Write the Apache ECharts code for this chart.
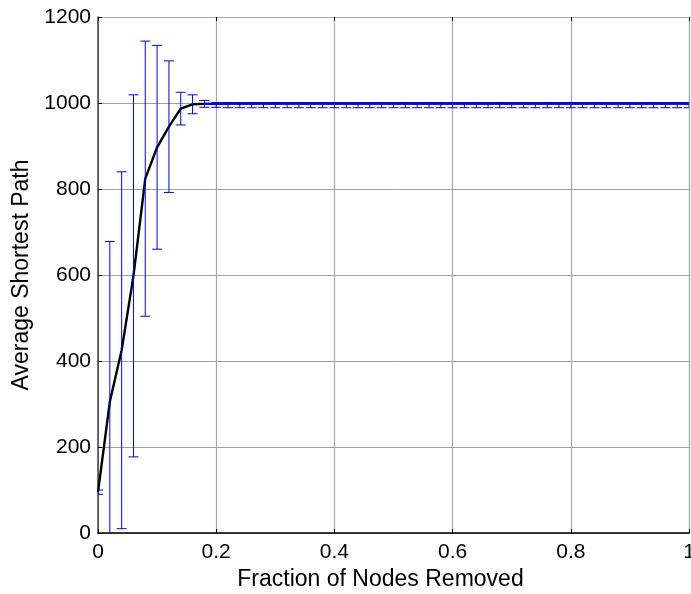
<!DOCTYPE html>
<html>
<head>
<meta charset="utf-8">
<script src="https://cdn.jsdelivr.net/npm/echarts@6/dist/echarts.min.js"></script>
<style>
html,body{margin:0;padding:0;background:#fff;}
#chart{width:691px;height:594px;}
</style>
</head>
<body>
<div id="chart"></div>
<script>
// Fraction of nodes removed (x positions)
const fractions = [0,0.02,0.04,0.06,0.08,0.10,0.12,0.14,0.16,0.18,0.20,
  0.22,0.24,0.26,0.28,0.30,0.32,0.34,0.36,0.38,0.40,
  0.42,0.44,0.46,0.48,0.50,0.52,0.54,0.56,0.58,0.60,
  0.62,0.64,0.66,0.68,0.70,0.72,0.74,0.76,0.78,0.80,
  0.82,0.84,0.86,0.88,0.90,0.92,0.94,0.96,0.98,1.00];
// Mean average shortest path
const meanPath = [95,305,425,598,824,897,945,987,997,998,998,
  999,999,999,999,999,999,999,999,999,999,
  999,999,999,999,999,999,999,999,999,999,
  999,999,999,999,999,999,999,999,999,999,
  999,999,999,999,999,999,999,999,999,999];
// Error below the mean
const errLow = [5,373,415,421,320,237,153,38,22,8,8,
  10,10,10,10,10,10,10,10,10,10,
  10,10,10,10,10,10,10,10,10,10,
  10,10,10,10,10,10,10,10,10,10,
  10,10,10,10,10,10,10,10,10,10];
// Error above the mean
const errHigh = [5,373,415,421,320,237,153,38,22,8,3,
  2,2,2,2,2,2,2,2,2,2,
  2,2,2,2,2,2,2,2,2,2,
  2,2,2,2,2,2,2,2,2,2,
  2,2,2,2,2,2,2,2,2,2];
const plateauStart = 9; // index where the blue error-bar line becomes visible
const xTicks = [0,0.2,0.4,0.6,0.8,1];
const yTicks = [0,200,400,600,800,1000,1200];

const lineData = fractions.map((x,i)=>[x, meanPath[i]]);
const blueLineData = lineData.filter((d,i)=>i>=plateauStart);
const errData = fractions.map((x,i)=>[x, meanPath[i]-errLow[i], meanPath[i]+errHigh[i]]);

const font = 'Liberation Sans, Arial, sans-serif';
const chart = echarts.init(document.getElementById('chart'), null, {renderer:'canvas'});

const capW = 5;
chart.setOption({
  animation:false,
  backgroundColor:'#fff',
  grid:{left:98,right:2,top:17,bottom:61,containLabel:false,outerBoundsMode:'none'},
  xAxis:[{
    type:'value',min:0,max:1,interval:0.2,position:'bottom',
    name:'Fraction of Nodes Removed',nameLocation:'middle',nameGap:33,
    nameTextStyle:{fontFamily:font,fontSize:23,color:'#000',padding:[0,26,0,0]},
    axisLine:{show:true,onZero:false,lineStyle:{color:'#000',width:1.5}},
    axisTick:{show:true,inside:true,length:4,lineStyle:{color:'#000'}},
    axisLabel:{fontFamily:font,fontSize:21,color:'#000',margin:9,
      formatter:v=>xTicks.includes(+v.toFixed(2))?String(+v.toFixed(2)):''},
    splitLine:{show:true,lineStyle:{color:'#a8a8a8',width:1.2}}
  },{
    type:'value',min:0,max:1,interval:0.2,position:'top',
    axisLine:{show:true,onZero:false,lineStyle:{color:'#a8a8a8',width:1.2}},
    axisTick:{show:true,inside:true,length:4,lineStyle:{color:'#000'}},
    axisLabel:{show:false},splitLine:{show:false}
  }],
  yAxis:[{
    type:'value',min:0,max:1200,interval:200,position:'left',
    name:'Average Shortest Path',nameLocation:'middle',nameGap:64,
    nameTextStyle:{fontFamily:font,fontSize:23,color:'#000'},
    axisLine:{show:true,onZero:false,lineStyle:{color:'#444',width:1.5}},
    axisTick:{show:true,inside:true,length:4,lineStyle:{color:'#000'}},
    axisLabel:{fontFamily:font,fontSize:21,color:'#000',margin:7,
      formatter:v=>yTicks.includes(v)?String(v):''},
    splitLine:{show:true,lineStyle:{color:'#a0a0a0',width:1}}
  },{
    type:'value',min:0,max:1200,interval:200,position:'right',
    axisLine:{show:true,onZero:false,lineStyle:{color:'#a8a8a8',width:1.2}},
    axisTick:{show:false},axisLabel:{show:false},splitLine:{show:false}
  }],
  series:[{
    type:'line',data:lineData,xAxisIndex:0,yAxisIndex:0,
    showSymbol:false,symbol:'none',
    lineStyle:{color:'#000',width:2.4},z:2
  },{
    type:'line',data:blueLineData,xAxisIndex:0,yAxisIndex:0,
    showSymbol:false,symbol:'none',
    lineStyle:{color:'#0000ff',width:2.2},z:4
  },{
    type:'custom',xAxisIndex:0,yAxisIndex:0,data:errData,clip:true,z:3,
    renderItem:function(params,api){
      const x = api.value(0);
      const lo = api.coord([x, api.value(1)]);
      const hi = api.coord([x, api.value(2)]);
      const style = {stroke:'#0000ff',lineWidth:1,fill:null};
      return {type:'group',children:[
        {type:'line',shape:{x1:lo[0],y1:lo[1],x2:hi[0],y2:hi[1]},style:style},
        {type:'line',shape:{x1:lo[0]-capW,y1:lo[1],x2:lo[0]+capW,y2:lo[1]},style:style},
        {type:'line',shape:{x1:hi[0]-capW,y1:hi[1],x2:hi[0]+capW,y2:hi[1]},style:style}
      ]};
    }
  }]
});
</script>
</body>
</html>
